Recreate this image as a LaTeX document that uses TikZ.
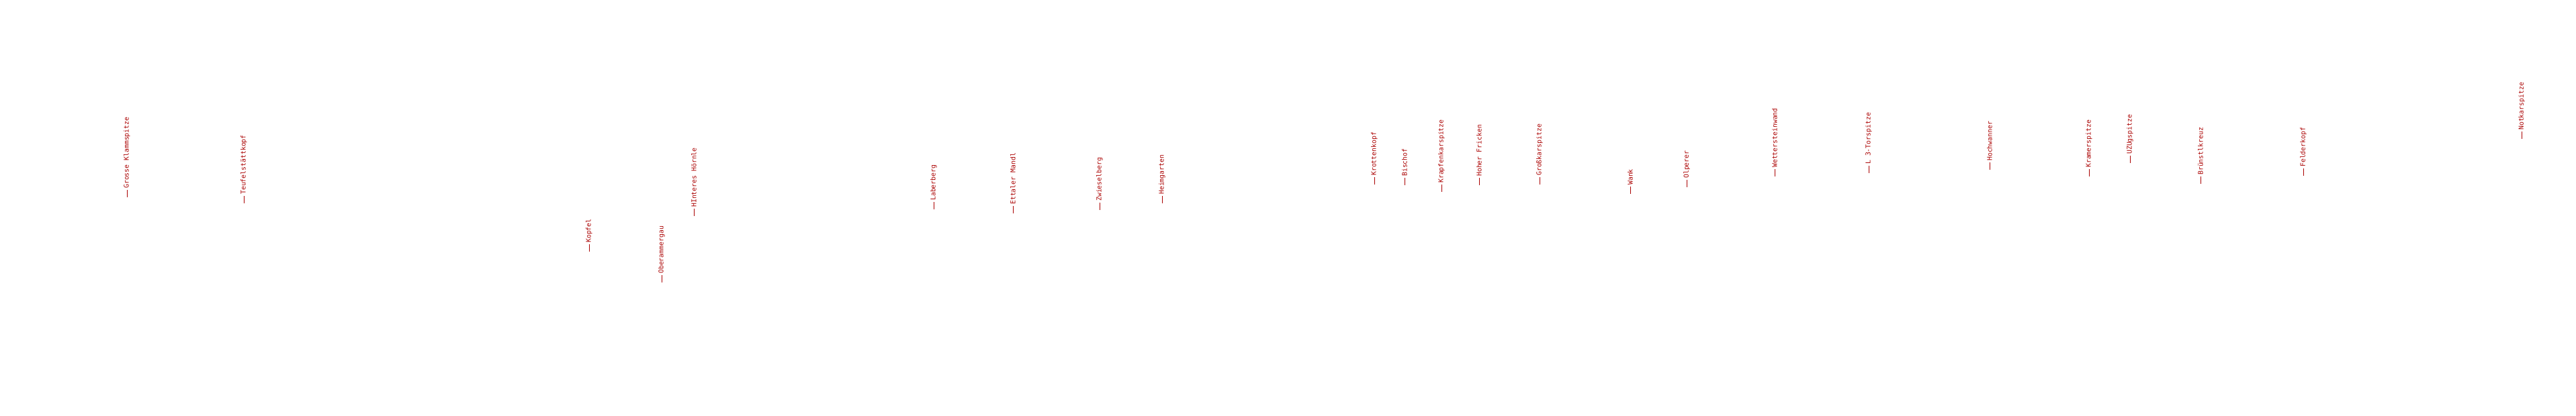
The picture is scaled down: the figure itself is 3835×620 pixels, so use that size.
\documentclass[tikz,border=0pt]{standalone}
\usepackage{fontspec}
\setmonofont{DejaVu Sans Mono}
\definecolor{peakred}{RGB}{170,0,0}
\begin{document}
\begin{tikzpicture}[x=1pt,y=1pt,
  tick/.style={draw=peakred, line width=1pt},
  lbl/.style={rotate=90, anchor=west, inner sep=0pt, text=peakred,
    font=\ttfamily\fontsize{9.8}{10}\selectfont}]
\useasboundingbox (0,0) rectangle (3835,620);
\foreach \n/\x/\y/\t in {
  1/189/294/Grosse Klammspitze,
  2/363/303/Teufelstättkopf,
  3/877/375/Kopfel,
  4/985/421/Oberammergau,
  5/1033/322/HInteres Hörnle,
  6/1390/312/Laberberg,
  7/1508/318/Ettaler Mandl,
  8/1637/313/Zwieselberg,
  9/1730/303/Heimgarten,
  10/2046/275/Krottenkopf,
  11/2091/276/Bischof,
  12/2146/286/Krapfenkarspitze,
  13/2202/276/Hoher Fricken,
  14/2292/275/Großkarspitze,
  15/2427/289/Wank,
  16/2511/279/Olperer,
  17/2642/263/Wettersteinwand,
  18/2782/258/L 3-Torspitze,
  24/2962/253/Hochwanner,
  19/3110/263/Kramerspitze,
  20/3171/243/UZUgspitze,
  21/3276/274/Brünstlkreuz,
  22/3429/262/Felderkopf,
  23/3754/207/Notkarspitze}
{
  \coordinate (b\n) at (\x,620-\y);
  \draw[tick] (b\n) -- ++(0,11) coordinate (d\n);
  \node[lbl] (p\n) at ([yshift=2pt]d\n) {\t};
}
\end{tikzpicture}
\end{document}
